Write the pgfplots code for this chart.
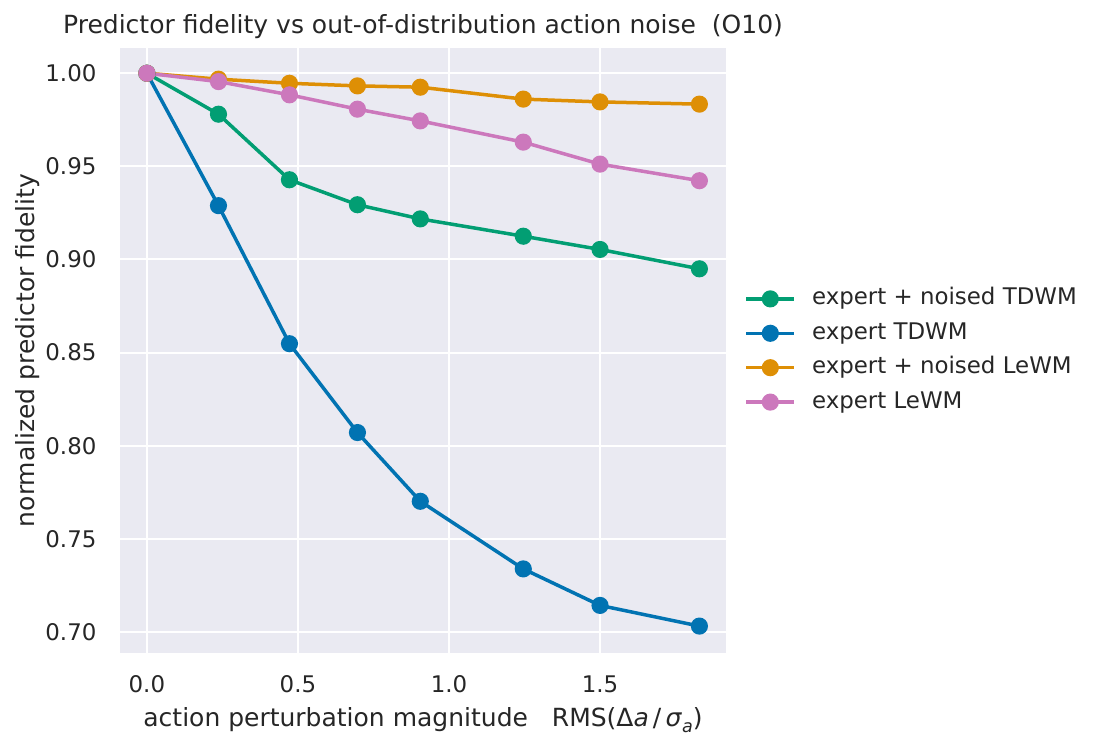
\documentclass[border=0pt]{standalone}
\usepackage{fontspec}
\setmainfont{DejaVu Sans}
\usepackage{pgfplots}
\pgfplotsset{compat=1.18}
\definecolor{sbg}{HTML}{EAEAF2}
\definecolor{txt}{HTML}{262626}
\definecolor{cbblue}{HTML}{0173B2}
\definecolor{cborange}{HTML}{DE8F05}
\definecolor{cbgreen}{HTML}{029E73}
\definecolor{cbpink}{HTML}{CC78BC}
\begin{document}
\begin{tikzpicture}
\begin{axis}[
  name=ax, at={(0,0)}, anchor=south west,
  scale only axis, width=303pt, height=302.8pt,
  xmin=-0.089, xmax=1.917, ymin=0.6886, ymax=1.0137,
  axis background/.style={fill=sbg},
  axis line style={draw=none},
  major tick length=0pt,
  grid=major,
  major grid style={white, line width=1pt},
  xtick={0,0.5,1,1.5},
  ytick={0.70,0.75,0.80,0.85,0.90,0.95,1.00},
  /pgf/number format/assume math mode=true,
  xticklabel style={/pgf/number format/.cd, fixed, fixed zerofill, precision=1, /tikz/.cd, font=\fontsize{11.45}{13}\selectfont, text=txt, anchor=base, yshift=-19.7pt, inner sep=0pt},
  yticklabel style={/pgf/number format/.cd, fixed, fixed zerofill, precision=2, /tikz/.cd, font=\fontsize{11.45}{13}\selectfont, text=txt, anchor=east, xshift=-11.6pt, inner sep=0pt},
  every axis title shift=0pt,
  title={Predictor fidelity vs out-of-distribution action noise\ \ (O10)},
  title style={at={(axis description cs:0.5,1)}, anchor=base, yshift=7.2pt, font=\fontsize{12.5}{14}\selectfont, text=txt, inner sep=0pt},
  xlabel={action perturbation magnitude\ \ \ RMS(Δ\textit{a}\,/\,\textit{σ}\raisebox{-0.4ex}{\fontsize{8.8}{9}\selectfont\textit{a}})},
  xlabel style={at={(axis description cs:0.5,0)}, anchor=base, yshift=-36.7pt, font=\fontsize{12.5}{14}\selectfont, text=txt, inner sep=0pt},
  ylabel={normalized predictor fidelity},
  ylabel style={at={(axis description cs:-0.1403,0.5)}, anchor=base, rotate=0, font=\fontsize{12.5}{14}\selectfont, text=txt, inner sep=0pt},
  legend cell align=left,
  legend style={at={(axis description cs:1.030,0.5)}, anchor=west, draw=none, fill=none,
    font=\fontsize{11.45}{13}\selectfont, text=txt, inner sep=0pt, row sep=6.1pt, column sep=8pt,
    nodes={inner sep=0pt, text height=8.6pt, text depth=2.5pt}},
  legend image code/.code={\draw[mark repeat=2, mark phase=2, #1] plot coordinates {(0pt,0pt) (12pt,0pt) (24pt,0pt)};},
  every axis plot/.append style={line width=1.75pt, mark=*, mark size=3.4pt, mark options={solid}},
  clip=false,
]
\addplot[color=cbgreen] coordinates {(0,1.000) (0.237,0.978) (0.472,0.9428) (0.697,0.9294) (0.905,0.9218) (1.246,0.9125) (1.5,0.9054) (1.829,0.895)};
\addlegendentry{expert + noised TDWM}
\addplot[color=cbblue] coordinates {(0,1.000) (0.237,0.9289) (0.472,0.8548) (0.697,0.8071) (0.905,0.7702) (1.246,0.7339) (1.5,0.7143) (1.829,0.7032)};
\addlegendentry{expert TDWM}
\addplot[color=cborange] coordinates {(0,1.000) (0.237,0.9968) (0.472,0.9946) (0.697,0.9932) (0.905,0.9925) (1.246,0.9861) (1.5,0.9846) (1.829,0.9834)};
\addlegendentry{expert + noised LeWM}
\addplot[color=cbpink] coordinates {(0,1.000) (0.237,0.9955) (0.472,0.9884) (0.697,0.9807) (0.905,0.9744) (1.246,0.963) (1.5,0.9512) (1.829,0.9423)};
\addlegendentry{expert LeWM}
\end{axis}
\pgfresetboundingbox
\path[use as bounding box] (-60pt,-47.85pt) rectangle (490pt,326.65pt);
\end{tikzpicture}
\end{document}
